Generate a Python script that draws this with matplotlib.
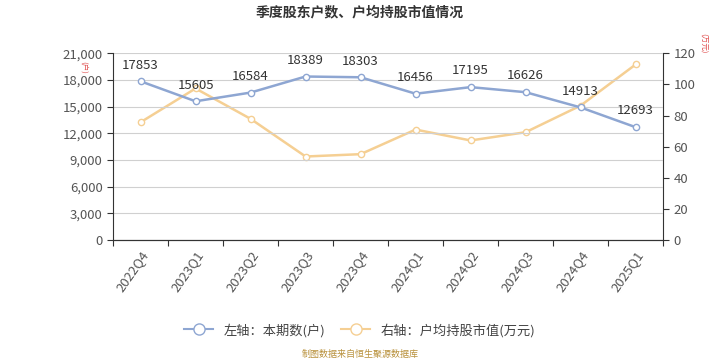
import numpy as np
import matplotlib
matplotlib.use('Agg')
import matplotlib.pyplot as plt
from matplotlib.lines import Line2D

plt.rcParams['font.family'] = ['Noto Sans CJK SC', 'DejaVu Sans']

quarters = ['2022Q4', '2023Q1', '2023Q2', '2023Q3', '2023Q4',
            '2024Q1', '2024Q2', '2024Q3', '2024Q4', '2025Q1']
holders = [17853, 15605, 16584, 18389, 18303, 16456, 17195, 16626, 14913, 12693]
avg_value = [75.7, 97.4, 77.9, 53.7, 55.2, 71.0, 64.0, 69.3, 86.4, 112.8]

blue = '#8ea6d2'
orange = '#f5cf93'
grey_text = '#555555'

fig = plt.figure(figsize=(7.2, 3.6), dpi=100)
ax = fig.add_axes([0.157, 0.333, 0.764, 0.519])
ax2 = ax.twinx()

x = np.arange(len(quarters))
ax.plot(x, holders, color=blue, lw=1.8, marker='o', ms=4.5,
        mfc='white', mec=blue, mew=1, zorder=3)
ax2.plot(x, avg_value, color=orange, lw=1.8, marker='o', ms=4.5,
         mfc='white', mec=orange, mew=1, zorder=3)
ax.set_zorder(ax2.get_zorder() + 1)
ax.patch.set_visible(False)

for i, v in enumerate(holders):
    ax.annotate(str(v), (i, v), xytext=(0, 7), textcoords='offset points',
                ha='center', va='bottom', fontsize=9.5, color='#333333')

ax.set_xlim(-0.5, len(quarters) - 0.5)
ax.set_ylim(0, 21000)
ax.set_yticks(np.arange(0, 21001, 3000))
ax.set_yticklabels([f'{t:,}' for t in range(0, 21001, 3000)])
ax2.set_ylim(0, 120)
ax2.set_yticks(np.arange(0, 121, 20))

ax.set_xticks(np.arange(-0.5, len(quarters), 1), minor=False)
ax.set_xticklabels([])
ax.set_xticks(x, minor=True)
ax.set_xticklabels(quarters, minor=True, rotation=55, ha='right',
                   rotation_mode='anchor', fontsize=9.5, color=grey_text)
ax.tick_params(axis='x', which='minor', length=0, pad=6)
ax.tick_params(axis='x', which='major', length=4, color='#333333')

ax.grid(axis='y', color='#d0d0d0', lw=0.8)
ax.set_axisbelow(True)
for a in (ax, ax2):
    a.spines['top'].set_visible(False)
    a.spines['left'].set_color('#333333')
    a.spines['right'].set_color('#333333')
    a.spines['bottom'].set_color('#333333')
ax.spines['right'].set_visible(False)
ax2.spines['left'].set_visible(False)
ax.tick_params(axis='y', labelsize=9.5, labelcolor=grey_text, length=4, color='#333333')
ax2.tick_params(axis='y', labelsize=9.5, labelcolor=grey_text, length=4, color='#333333')

fig.text(0.5, 0.965, '季度股东户数、户均持股市值情况', ha='center', va='center',
         fontsize=10, fontweight='bold', color='#333333')
fig.text(0.116, 0.812, '(户)', rotation=-90, ha='center', va='center',
         fontsize=5.5, color='#e05050')
fig.text(0.976, 0.88, '(万元)', rotation=-90, ha='center', va='center',
         fontsize=5.5, color='#e05050')

handles = [Line2D([], [], color=blue, lw=1.5, marker='o', ms=8, mfc='white', mec=blue),
           Line2D([], [], color=orange, lw=1.5, marker='o', ms=8, mfc='white', mec=orange)]
fig.legend(handles, ['左轴：本期数(户)', '右轴：户均持股市值(万元)'], loc='center',
           bbox_to_anchor=(0.5, 0.083), ncol=2, frameon=False, fontsize=9.5,
           handlelength=2.2, columnspacing=1.2, labelcolor='#444444')
fig.text(0.5, 0.016, '制图数据来自恒生聚源数据库', ha='center', va='center',
         fontsize=6.5, color='#b8903a')

fig.savefig('out.png', dpi=100)
